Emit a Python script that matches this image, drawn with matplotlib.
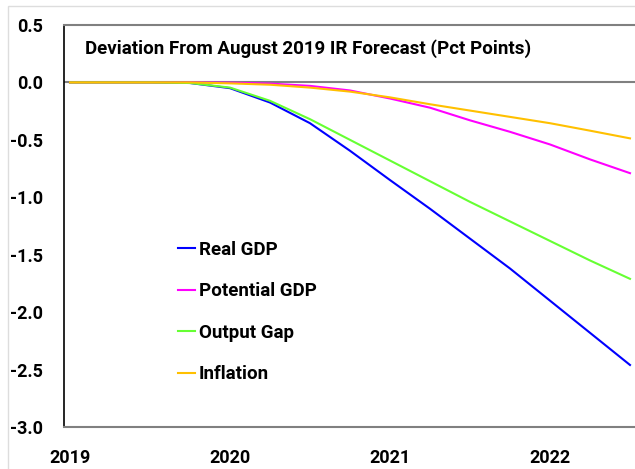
import numpy as np
import matplotlib
matplotlib.use('Agg')
import matplotlib.pyplot as plt
from matplotlib.patches import Rectangle

plt.rcParams['font.family'] = ['Roboto', 'DejaVu Sans']
plt.rcParams['font.weight'] = 'bold'

# quarterly, 2019Q1 .. 2022Q3
quarters = ['2019Q1', '2019Q2', '2019Q3', '2019Q4',
            '2020Q1', '2020Q2', '2020Q3', '2020Q4',
            '2021Q1', '2021Q2', '2021Q3', '2021Q4',
            '2022Q1', '2022Q2', '2022Q3']
real_gdp = [0, 0, 0, -0.005, -0.05, -0.175, -0.355, -0.595, -0.85, -1.10,
            -1.36, -1.62, -1.90, -2.18, -2.46]
potential_gdp = [0, 0, 0, 0, -0.002, -0.01, -0.03, -0.07, -0.14, -0.22,
                 -0.33, -0.43, -0.54, -0.67, -0.79]
output_gap = [0, 0, 0, -0.005, -0.045, -0.16, -0.32, -0.50, -0.68, -0.86,
              -1.04, -1.21, -1.38, -1.55, -1.71]
inflation = [0, 0, 0, 0, -0.008, -0.02, -0.045, -0.08, -0.13, -0.19,
             -0.245, -0.30, -0.355, -0.42, -0.487]
year_labels = ['2019', '2020', '2021', '2022']

x = np.arange(len(quarters))

fig = plt.figure(figsize=(6.35, 4.69), dpi=100)
ax = fig.add_axes([64 / 635, 42 / 469, 572 / 635, 402 / 469])

ax.plot(x, real_gdp, color='#0000ff', lw=1.5, label='Real GDP')
ax.plot(x, potential_gdp, color='#ff00ff', lw=1.5, label='Potential GDP')
ax.plot(x, output_gap, color='#66ff33', lw=1.5, label='Output Gap')
ax.plot(x, inflation, color='#ffc000', lw=1.5, label='Inflation')
ax.axhline(0, color='#808080', lw=1.5, zorder=1)

ax.set_xlim(-0.15, 14.15)
ax.set_ylim(-3.0, 0.5)
ax.set_yticks(np.arange(-3.0, 0.51, 0.5))
ax.set_yticklabels([f'{v:.1f}' for v in np.arange(-3.0, 0.51, 0.5)])
ax.set_xticks([quarters.index(y + 'Q1') for y in year_labels])
ax.set_xticklabels(year_labels)
ax.tick_params(axis='both', length=0, labelsize=13)
ax.tick_params(axis='y', pad=15)
ax.tick_params(axis='x', pad=16)

ax.spines['right'].set_visible(False)
ax.spines['left'].set_color('black')
ax.spines['left'].set_linewidth(1.2)
for s in ['top', 'bottom']:
    ax.spines[s].set_color('#808080')
    ax.spines[s].set_linewidth(1.5)

ax.text(21 / 572, (427 - 49) / 402, 'Deviation From August 2019 IR Forecast (Pct Points)',
        transform=ax.transAxes, fontsize=13.5, fontweight='bold', va='center', ha='left')

ax.legend(loc='upper left', bbox_to_anchor=((178 - 64) / 572, (427 - 241) / 402),
          frameon=False, fontsize=13.5, borderpad=0, borderaxespad=0,
          handlelength=0.9, handletextpad=0.2, labelspacing=1.25)

# light frame around the picture
fig.patches.append(Rectangle((8 / 635, -0.1), 1.1, 1 - 6 / 469 + 0.1,
                             transform=fig.transFigure, fill=False,
                             edgecolor='#dddddd', lw=1))

fig.savefig('out.png', dpi=100)
